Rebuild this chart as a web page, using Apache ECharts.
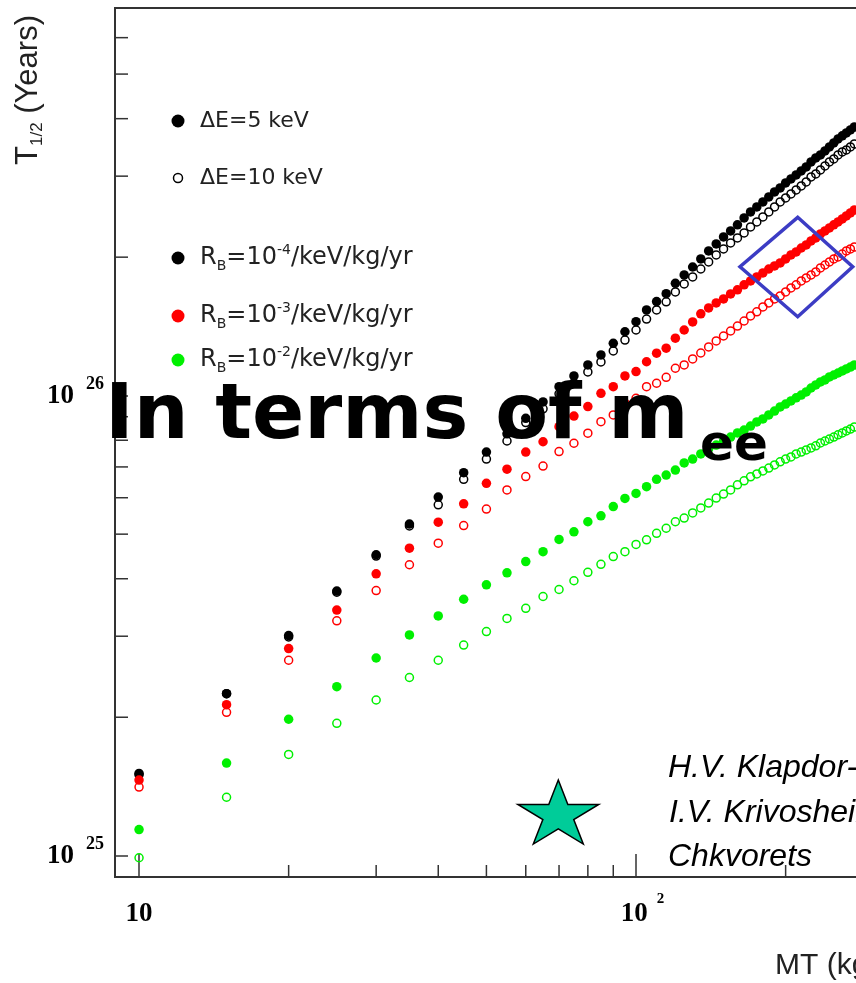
<!DOCTYPE html>
<html>
<head>
<meta charset="utf-8">
<script src="https://cdn.jsdelivr.net/npm/echarts@6/dist/echarts.min.js"></script>
<style>
  html, body { margin: 0; padding: 0; background: #fff; }
  #chart { width: 856px; height: 983px; }
</style>
</head>
<body>
<div id="chart"></div>
<script>
    // exposure MT (kg yr)
    var mt = [10,15,20,25,30,35,40,45,50,55,60,65,70,75,80,85,90,95,100,105,110,115,120,125,130,135,140,145,150,155,
              160,165,170,175,180,185,190,195,200,205,210,215,220,225,230,235,240,245,250,255,260,265,270,275];

    // T1/2 sensitivity, in units of 10^25 years
    var blackFilled = [1.51,2.25,3.01,3.76,4.51,5.26,6.02,6.80,7.54,8.26,8.93,9.69,10.46,11.04,11.66,12.26,13.00,13.77,14.48,15.36,
                       16.01,16.66,17.55,18.30,19.04,19.82,20.63,21.37,22.13,22.80,23.51,24.34,25.08,25.72,26.37,27.04,27.72,28.28,29.00,29.59,
                       30.19,30.80,31.42,32.21,32.86,33.36,34.04,34.73,35.42,36.14,36.70,37.25,37.81,38.38];
    var blackOpen = [1.50,2.25,2.99,3.74,4.48,5.21,5.79,6.58,7.28,7.97,8.74,9.36,10.09,10.66,11.26,11.84,12.51,13.21,13.89,14.67,
                     15.36,15.99,16.81,17.49,18.12,18.85,19.53,20.22,20.84,21.48,22.02,22.58,23.27,23.86,24.46,25.08,25.72,26.37,26.90,27.44,
                     28.00,28.57,29.15,29.88,30.34,30.95,31.57,32.21,32.70,33.36,33.87,34.20,34.73,35.25];
    var redFilled = [1.46,2.13,2.82,3.42,4.10,4.66,5.31,5.82,6.45,6.92,7.54,7.94,8.56,9.03,9.47,10.12,10.46,11.04,11.28,11.85,
                     12.37,12.68,13.33,13.89,14.46,15.06,15.51,15.91,16.23,16.64,16.98,17.41,17.76,18.12,18.48,18.85,19.14,19.43,19.82,20.22,
                     20.53,20.94,21.26,21.69,22.02,22.47,22.80,23.15,23.51,23.86,24.22,24.58,24.96,25.33];
    var redOpen = [1.41,2.05,2.66,3.24,3.77,4.29,4.78,5.22,5.67,6.24,6.67,7.03,7.56,7.88,8.29,8.78,9.08,9.63,9.87,10.46,
                   10.64,10.96,11.47,11.66,12.02,12.38,12.76,13.15,13.48,13.82,14.17,14.53,14.90,15.21,15.59,15.91,16.23,16.47,16.81,17.15,
                   17.41,17.76,18.03,18.30,18.58,18.95,19.23,19.53,19.82,20.02,20.32,20.63,20.84,21.05];
    var greenFilled = [1.14,1.59,1.98,2.33,2.69,3.02,3.32,3.61,3.88,4.12,4.36,4.58,4.87,5.06,5.32,5.48,5.74,5.98,6.13,6.34,
                       6.58,6.72,6.89,7.14,7.28,7.47,7.66,7.81,7.97,8.13,8.30,8.42,8.59,8.77,8.90,9.08,9.26,9.45,9.59,9.74,
                       9.89,10.03,10.19,10.39,10.55,10.71,10.82,10.98,11.09,11.20,11.32,11.43,11.54,11.66];
    var greenOpen = [0.99,1.34,1.66,1.94,2.18,2.44,2.66,2.87,3.07,3.28,3.45,3.66,3.79,3.96,4.13,4.30,4.47,4.58,4.75,4.86,
                     5.02,5.15,5.32,5.42,5.56,5.70,5.84,5.99,6.11,6.24,6.40,6.53,6.66,6.76,6.86,6.96,7.07,7.18,7.28,7.36,
                     7.47,7.54,7.62,7.70,7.78,7.89,7.97,8.05,8.13,8.22,8.30,8.38,8.46,8.55];

    var xMinorTicks = [20,30,40,50,60,70,80,90,200,300];
    var yMinorTicks = [2,3,4,5,6,7,8,9,20,30,40,50,60];

    var X_MIN = 8.946, X_MAX = 304, Y_MIN = 0.899, Y_MAX = 69.6;
    var GREEN = '#00f000';

    var chart = echarts.init(document.getElementById('chart'));

    function pairs(ys) {
        return mt.map(function (x, i) { return [x, ys[i]]; });
    }
    function decade(v) {
        var l = Math.log(v) / Math.LN10;
        return Math.abs(l - Math.round(l)) < 1e-6 ? Math.round(l) : null;
    }
    function dots(name, ys, color, open) {
        return {
            name: name,
            type: 'scatter',
            data: pairs(ys),
            symbol: 'circle',
            symbolSize: open ? 8 : 9.5,
            silent: true,
            itemStyle: open ? { color: 'rgba(0,0,0,0)', borderColor: color, borderWidth: 1.5, opacity: 1 } : { color: color, opacity: 1 }
        };
    }

    // star next to the reference
    var starPts = [];
    for (var k = 0; k < 10; k++) {
        var a = Math.PI * k / 5;
        var rr = (k % 2 === 0) ? 1 : 0.382;
        starPts.push([558.3 + 42.5 * rr * Math.sin(a), 815.4 - 35.4 * rr * Math.cos(a)]);
    }

    var legendFont = 'DejaVu Sans';
    var supRich = {
        sub: { fontSize: 14, lineHeight: 14, verticalAlign: 'bottom', fontFamily: legendFont, fill: '#222' },
        sup: { fontSize: 14, lineHeight: 14, verticalAlign: 'top', fontFamily: legendFont, fill: '#222' }
    };

    var option = {
        animation: false,
        backgroundColor: '#fff',
        grid: {
            left: 115, top: 8, right: -20, bottom: 106,
            outerBoundsMode: 'none',
            containLabel: false,
            show: true, borderColor: '#333', borderWidth: 2
        },
        xAxis: {
            type: 'log',
            min: X_MIN, max: X_MAX,
            axisLine: { show: false },
            splitLine: { show: false },
            axisTick: { inside: true, length: 23, lineStyle: { color: '#333', width: 1.5 } },
            axisLabel: {
                margin: 15,
                formatter: function (v) {
                    var d = decade(v);
                    if (d === null) return '';
                    if (d === 1) return '{b|10}';
                    return '{sp| }{b|10}{s|' + d + '}';
                },
                rich: {
                    b: { fontFamily: 'Liberation Serif', fontWeight: 'bold', fontSize: 27, lineHeight: 44, color: '#000' },
                    s: { fontFamily: 'Liberation Serif', fontWeight: 'bold', fontSize: 15, lineHeight: 14, verticalAlign: 'top', padding: [0, 0, 0, 9], color: '#000' },
                    sp: { width: 13, fontSize: 14 }
                }
            }
        },
        yAxis: {
            type: 'log',
            min: Y_MIN, max: Y_MAX,
            axisLine: { show: false },
            splitLine: { show: false },
            axisTick: { inside: true, length: 13, lineStyle: { color: '#333', width: 1.5 } },
            axisLabel: {
                margin: 11,
                formatter: function (v) {
                    var d = decade(v);
                    if (d === null) return '';
                    return '{b|10}{s|' + (d + 25) + '}';
                },
                rich: {
                    b: { fontFamily: 'Liberation Serif', fontWeight: 'bold', fontSize: 27, lineHeight: 40, color: '#000' },
                    s: { fontFamily: 'Liberation Serif', fontWeight: 'bold', fontSize: 18, lineHeight: 18, verticalAlign: 'top', padding: [0, 0, 0, 12], color: '#000' }
                }
            }
        },
        series: [
            dots('ΔE=5 keV, Rb=1e-4', blackFilled, '#000', false),
            dots('ΔE=10 keV, Rb=1e-4', blackOpen, '#000', true),
            dots('ΔE=5 keV, Rb=1e-3', redFilled, '#ff0000', false),
            dots('ΔE=10 keV, Rb=1e-3', redOpen, '#ff0000', true),
            dots('ΔE=5 keV, Rb=1e-2', greenFilled, GREEN, false),
            dots('ΔE=10 keV, Rb=1e-2', greenOpen, GREEN, true),
            {
                // minor ticks on the x axis
                type: 'custom',
                silent: true,
                clip: false,
                data: xMinorTicks.map(function (v) { return [v, Y_MIN]; }),
                renderItem: function (params, api) {
                    var p = api.coord([api.value(0), api.value(1)]);
                    return { type: 'line', shape: { x1: p[0], y1: p[1], x2: p[0], y2: p[1] - 12 }, style: { stroke: '#333', lineWidth: 1.5 } };
                }
            },
            {
                // minor ticks on the y axis
                type: 'custom',
                silent: true,
                clip: false,
                data: yMinorTicks.map(function (v) { return [X_MIN, v]; }),
                renderItem: function (params, api) {
                    var p = api.coord([api.value(0), api.value(1)]);
                    return { type: 'line', shape: { x1: p[0], y1: p[1], x2: p[0] + 13, y2: p[1] }, style: { stroke: '#333', lineWidth: 1.5 } };
                }
            }
        ],
        graphic: [
            // legend
            { type: 'circle', shape: { cx: 178, cy: 121, r: 6.5 }, style: { fill: '#000' } },
            { type: 'text', style: { x: 200, y: 121, text: 'ΔE=5 keV', fontSize: 22, fontFamily: legendFont, fill: '#222', verticalAlign: 'middle' } },
            { type: 'circle', shape: { cx: 178, cy: 178, r: 4.5 }, style: { fill: 'none', stroke: '#000', lineWidth: 1.5 } },
            { type: 'text', style: { x: 200, y: 178, text: 'ΔE=10 keV', fontSize: 22, fontFamily: legendFont, fill: '#222', verticalAlign: 'middle' } },
            { type: 'circle', shape: { cx: 178, cy: 258, r: 6.5 }, style: { fill: '#000' } },
            { type: 'text', style: { x: 200, y: 258, text: 'R{sub|B}=10{sup|-4}/keV/kg/yr', fontSize: 24, lineHeight: 30, fontFamily: legendFont, fill: '#222', verticalAlign: 'middle', rich: supRich } },
            { type: 'circle', shape: { cx: 178, cy: 316, r: 6.5 }, style: { fill: '#ff0000' } },
            { type: 'text', style: { x: 200, y: 316, text: 'R{sub|B}=10{sup|-3}/keV/kg/yr', fontSize: 24, lineHeight: 30, fontFamily: legendFont, fill: '#222', verticalAlign: 'middle', rich: supRich } },
            { type: 'circle', shape: { cx: 178, cy: 360, r: 6.5 }, style: { fill: GREEN } },
            { type: 'text', style: { x: 200, y: 360, text: 'R{sub|B}=10{sup|-2}/keV/kg/yr', fontSize: 24, lineHeight: 30, fontFamily: legendFont, fill: '#222', verticalAlign: 'middle', rich: supRich } },

            // axis titles
            {
                type: 'text', x: 28, y: 90, rotation: Math.PI / 2,
                style: {
                    text: 'T{s|1/2} (Years)', fontSize: 31, lineHeight: 36, fontFamily: 'Liberation Sans', fill: '#222',
                    align: 'center', verticalAlign: 'middle',
                    rich: { s: { fontSize: 17, lineHeight: 17, verticalAlign: 'bottom', fontFamily: 'Liberation Sans', fill: '#222' } }
                }
            },
            { type: 'text', style: { x: 775, y: 966, text: 'MT (kg yr)', fontSize: 30, fontFamily: 'Liberation Sans', fill: '#222', verticalAlign: 'middle' } },

            // highlight box
            { type: 'polygon', shape: { points: [[797.7, 217.3], [852.7, 266.7], [797.7, 316.7], [740, 266.7]] }, style: { fill: 'none', stroke: '#3c3cc4', lineWidth: 3.5 }, z: 50 },

            // overlay title
            { type: 'text', z: 100, style: { x: 105, y: 418, text: 'In terms of m', fontSize: 77, fontWeight: 'bold', fontFamily: 'DejaVu Sans', fill: '#000', verticalAlign: 'middle' } },
            { type: 'text', z: 100, style: { x: 700, y: 447, text: 'ee', fontSize: 50, fontWeight: 'bold', fontFamily: 'DejaVu Sans', fill: '#000', verticalAlign: 'middle' } },

            // reference
            { type: 'polygon', z: 50, shape: { points: starPts }, style: { fill: '#00cc99', stroke: '#000', lineWidth: 1.5 } },
            { type: 'text', z: 50, style: { x: 668, y: 768, text: 'H.V. Klapdor-Kleingrothaus,', fontSize: 32, fontStyle: 'italic', fontFamily: 'Liberation Sans', fill: '#000', verticalAlign: 'middle' } },
            { type: 'text', z: 50, style: { x: 669, y: 813, text: 'I.V. Krivosheina,', fontSize: 32, fontStyle: 'italic', fontFamily: 'Liberation Sans', fill: '#000', verticalAlign: 'middle' } },
            { type: 'text', z: 50, style: { x: 668, y: 857, text: 'Chkvorets', fontSize: 32, fontStyle: 'italic', fontFamily: 'Liberation Sans', fill: '#000', verticalAlign: 'middle' } }
        ]
    };

    chart.setOption(option);
</script>
</body>
</html>
